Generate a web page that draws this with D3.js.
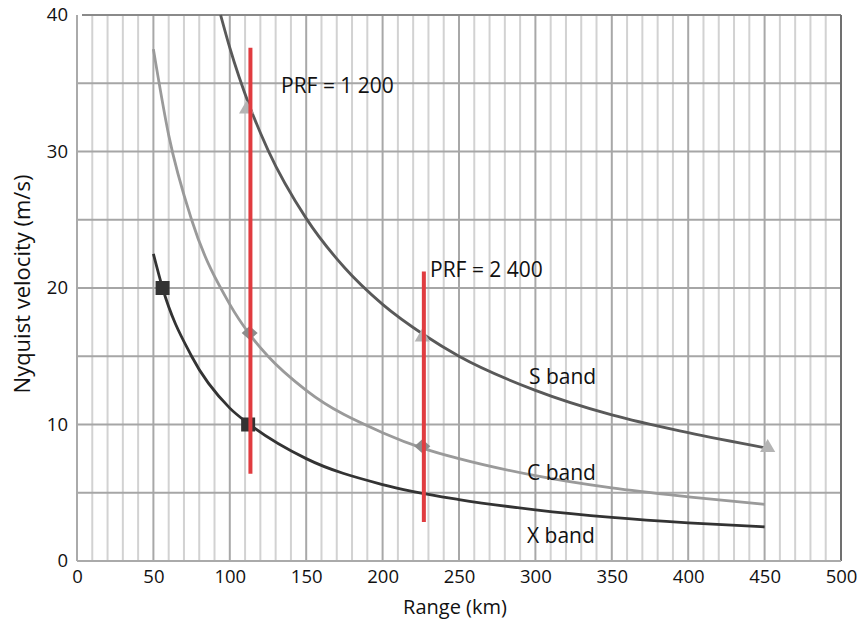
<!DOCTYPE html>
<html>
<head>
<meta charset="utf-8">
<script src="https://cdn.jsdelivr.net/npm/d3@7"></script>
<style>
  html, body { margin: 0; padding: 0; background: #fff; }
  svg { display: block; font-family: "Open Sans", "DejaVu Sans", sans-serif; }
</style>
</head>
<body>
<svg id="chart" width="857" height="623"></svg>
<script>
// Nyquist velocity against maximum unambiguous range for three radar bands
const sRange = [94, 100, 113, 125, 150, 175, 200, 228, 250, 300, 350, 400, 450];
const sVel   = [40, 37.6, 33.3, 30.1, 25.1, 21.5, 18.8, 16.5, 15.0, 12.5, 10.7, 9.4, 8.3];
const cRange = [50, 60, 75, 100, 113, 125, 150, 200, 228, 250, 300, 350, 400, 450];
const cVel   = [37.5, 31.2, 25.0, 18.8, 16.6, 15.0, 12.5, 9.4, 8.2, 7.5, 6.25, 5.35, 4.7, 4.15];
const xRange = [50, 56, 75, 100, 113, 150, 200, 250, 300, 350, 400, 450];
const xVel   = [22.5, 20.0, 15.0, 11.2, 10.0, 7.5, 5.6, 4.5, 3.75, 3.2, 2.8, 2.5];

// marker positions on each curve
const sMarkers = [[111, 33.1], [226, 16.4], [452, 8.3]];
const cMarkers = [[113, 16.7], [226, 8.4]];
const xMarkers = [[56, 20.0], [112, 10.0]];

// PRF lines: range, lower and upper velocity, label
const prfRange = [113.5, 227];
const prfLow   = [6.4, 2.85];
const prfHigh  = [37.6, 21.2];
const prfLabel = ["PRF = 1 200", "PRF = 2 400"];

const xTicks = [0, 50, 100, 150, 200, 250, 300, 350, 400, 450, 500];
const yTicks = [0, 10, 20, 30, 40];

const svg = d3.select("#chart");
const m = { left: 77, right: 16, top: 15, bottom: 62 };
const W = 857, H = 623;
const x = d3.scaleLinear().domain([0, 500]).range([m.left, W - m.right]);
const y = d3.scaleLinear().domain([0, 40]).range([H - m.bottom, m.top]);

// grid: minor verticals every 10 km, major every 50 km, horizontals every 5 m/s
const g = svg.append("g");
g.selectAll("line.vminor").data(d3.range(10, 500, 10).filter(v => v % 50 !== 0)).join("line")
  .attr("x1", d => x(d)).attr("x2", d => x(d)).attr("y1", y(40)).attr("y2", y(0))
  .attr("stroke", "#d2d2d2").attr("stroke-width", 2);
g.selectAll("line.vmajor").data(d3.range(50, 500, 50)).join("line")
  .attr("x1", d => x(d)).attr("x2", d => x(d)).attr("y1", y(40)).attr("y2", y(0))
  .attr("stroke", "#a8a8a8").attr("stroke-width", 2);
g.selectAll("line.h").data(d3.range(5, 40, 5)).join("line")
  .attr("x1", x(0)).attr("x2", x(500)).attr("y1", d => y(d)).attr("y2", d => y(d))
  .attr("stroke", "#a6a6a6").attr("stroke-width", 2);

// frame
svg.append("line").attr("x1", x(0) + 5).attr("x2", x(500)).attr("y1", y(40)).attr("y2", y(40))
  .attr("stroke", "#8a8a8a").attr("stroke-width", 2);
svg.append("line").attr("x1", x(500)).attr("x2", x(500)).attr("y1", y(40)).attr("y2", y(0))
  .attr("stroke", "#707070").attr("stroke-width", 2);
svg.append("line").attr("x1", x(0)).attr("x2", x(0)).attr("y1", y(40)).attr("y2", y(0))
  .attr("stroke", "#aaaaaa").attr("stroke-width", 2);
svg.append("line").attr("x1", x(0)).attr("x2", x(500)).attr("y1", y(0)).attr("y2", y(0))
  .attr("stroke", "#aaaaaa").attr("stroke-width", 2);

// axes (labels only)
const xAxis = d3.axisBottom(x).tickValues(xTicks).tickSize(0).tickPadding(9);
svg.append("g").attr("transform", `translate(0,${y(0)})`).call(xAxis)
  .call(a => a.select(".domain").remove())
  .selectAll("text").attr("font-size", 18.5).attr("fill", "#111")
  .attr("font-family", "'Open Sans', sans-serif");
const yAxis = d3.axisLeft(y).tickValues(yTicks).tickSize(0).tickPadding(9);
svg.append("g").attr("transform", `translate(${x(0)},0)`).call(yAxis)
  .call(a => a.select(".domain").remove())
  .selectAll("text").attr("font-size", 18.5).attr("fill", "#111")
  .attr("font-family", "'Open Sans', sans-serif");

svg.append("text").attr("x", 455).attr("y", 614).attr("text-anchor", "middle")
  .attr("font-size", 20).attr("fill", "#111").text("Range (km)");
svg.append("text").attr("transform", "translate(30,284) rotate(-90)").attr("text-anchor", "middle")
  .attr("font-size", 22).attr("fill", "#111").text("Nyquist velocity (m/s)");

// curves
const line = d3.line().x(d => x(d[0])).y(d => y(d[1])).curve(d3.curveMonotoneX);
const bands = [
  { r: sRange, v: sVel, color: "#595959" },
  { r: cRange, v: cVel, color: "#9a9a9a" },
  { r: xRange, v: xVel, color: "#333333" }
];
bands.forEach(b => {
  svg.append("path").datum(b.r.map((r, i) => [r, b.v[i]]))
    .attr("d", line).attr("fill", "none").attr("stroke", b.color).attr("stroke-width", 2.8);
});

// markers
const tri = d3.symbol().type(d3.symbolTriangle).size(100);
svg.selectAll("path.tri").data(sMarkers).join("path")
  .attr("d", tri).attr("transform", d => `translate(${x(d[0])},${y(d[1])})`)
  .attr("fill", "#b4b4b4");
svg.selectAll("path.dia").data(cMarkers).join("path")
  .attr("d", "M0,-7 L8,0 L0,7 L-8,0 Z").attr("transform", d => `translate(${x(d[0])},${y(d[1])})`)
  .attr("fill", "#8c8c8c");
svg.selectAll("rect.sq").data(xMarkers).join("rect")
  .attr("x", d => x(d[0]) - 7).attr("y", d => y(d[1]) - 7).attr("width", 14).attr("height", 14)
  .attr("fill", "#333333");

// PRF lines
svg.selectAll("line.prf").data(prfRange).join("line")
  .attr("x1", d => x(d)).attr("x2", d => x(d))
  .attr("y1", (d, i) => y(prfHigh[i])).attr("y2", (d, i) => y(prfLow[i]))
  .attr("stroke", "#e03c40").attr("stroke-width", 4);

// text labels
const labels = [
  { t: prfLabel[0], px: 281, py: 93 },
  { t: prfLabel[1], px: 430, py: 277 },
  { t: "S band", px: 529, py: 384 },
  { t: "C band", px: 527, py: 480 },
  { t: "X band", px: 527, py: 543 }
];
svg.selectAll("text.lbl").data(labels).join("text")
  .attr("x", d => d.px).attr("y", d => d.py).attr("font-size", 21).attr("fill", "#111")
  .text(d => d.t);
</script>
</body>
</html>
